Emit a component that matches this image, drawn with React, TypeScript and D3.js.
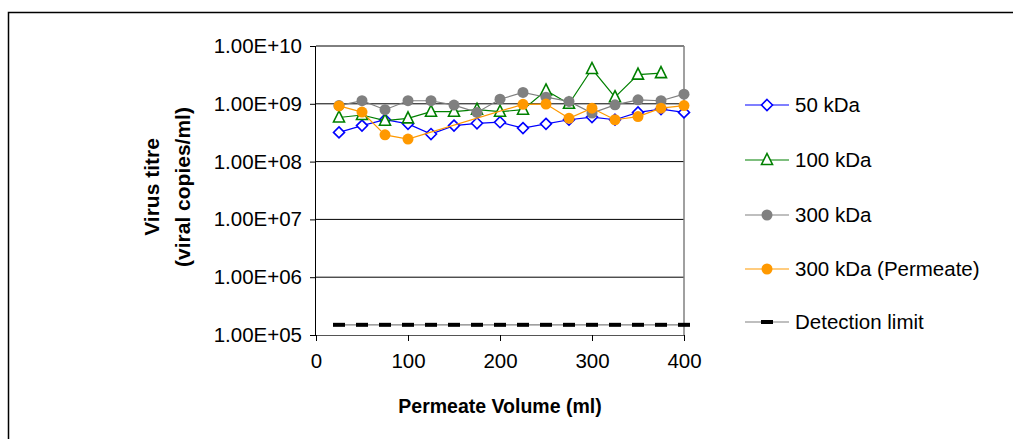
import { useEffect, useRef } from 'react';
import * as d3 from 'd3';

const volumes = [25, 50, 75, 100, 125, 150, 175, 200, 225, 250, 275, 300, 325, 350, 375, 400];

const kda50 = [3.2e8, 4.2e8, 5.3e8, 4.5e8, 3.0e8, 4.2e8, 4.6e8, 4.8e8, 3.8e8, 4.5e8, 5.3e8, 5.9e8, 5.3e8, 7.1e8, 8.1e8, 7.1e8];
const kda100 = [5.8e8, 6.4e8, 5.1e8, 5.6e8, 7.3e8, 7.3e8, 7.9e8, 7.3e8, 7.9e8, 1.7e9, 1.0e9, 4.0e9, 1.3e9, 3.2e9, 3.4e9, null];
const kda300 = [9.3e8, 1.13e9, 7.9e8, 1.13e9, 1.13e9, 9.5e8, 7.1e8, 1.2e9, 1.57e9, 1.3e9, 1.1e9, 6.9e8, 9.6e8, 1.17e9, 1.13e9, 1.47e9];
const kda300Permeate = [9.2e8, 7.2e8, 2.9e8, 2.45e8, null, null, null, null, 9.8e8, 9.9e8, 5.6e8, 8.4e8, 5.3e8, 6.0e8, 8.4e8, 9.3e8];
const detectionLimit = [1.5e5, 1.5e5, 1.5e5, 1.5e5, 1.5e5, 1.5e5, 1.5e5, 1.5e5, 1.5e5, 1.5e5, 1.5e5, 1.5e5, 1.5e5, 1.5e5, 1.5e5, 1.5e5];

const yTicks = [1e5, 1e6, 1e7, 1e8, 1e9, 1e10];
const xTicks = [0, 100, 200, 300, 400];

const seriesNames = ['50 kDa', '100 kDa', '300 kDa', '300 kDa (Permeate)', 'Detection limit'];

type Marker = 'diamond' | 'triangle' | 'circle' | 'dash';

export default function App() {
  const svgRef = useRef<SVGSVGElement>(null);

  useEffect(() => {
    if (!svgRef.current) return;
    const svg = d3.select(svgRef.current);
    svg.selectAll('*').remove();

    const font = '"Liberation Sans", Arial, sans-serif';
    const left = 316, right = 684, top = 46, bottom = 335;

    const x = d3.scaleLinear().domain([0, 400]).range([left, right]);
    const y = d3.scaleLog().domain([1e5, 1e10]).range([bottom, top]);

    // outer chart border
    svg.append('rect')
      .attr('x', 8.5).attr('y', 12.5)
      .attr('width', 1020).attr('height', 460)
      .attr('fill', 'none').attr('stroke', '#000').attr('stroke-width', 1.5);

    // gridlines
    svg.append('g').selectAll('line')
      .data(yTicks.slice(1))
      .enter().append('line')
      .attr('x1', left).attr('x2', right)
      .attr('y1', d => y(d)).attr('y2', d => y(d))
      .attr('stroke', '#000').attr('stroke-width', 1);

    // right plot border
    svg.append('line')
      .attr('x1', right).attr('x2', right).attr('y1', top).attr('y2', bottom)
      .attr('stroke', '#808080').attr('stroke-width', 1.5);

    // y axis
    const yAxis = d3.axisLeft(y)
      .tickValues(yTicks)
      .tickSize(6)
      .tickFormat(d => {
        const e = Math.round(Math.log10(+d));
        return `1.00E+${String(e).padStart(2, '0')}`;
      });
    const gy = svg.append('g').attr('transform', `translate(${left},0)`).call(yAxis);
    gy.select('.domain').attr('stroke', '#000').attr('d', `M-0.5,${top}V${bottom}`);
    gy.selectAll('.tick line').attr('stroke', '#000');
    gy.selectAll('.tick text')
      .attr('x', -14)
      .attr('font-family', font).attr('font-size', 20.5).attr('fill', '#000');

    // x axis
    const xAxis = d3.axisBottom(x).tickValues(xTicks).tickSize(6).tickFormat(d3.format('d'));
    const gx = svg.append('g').attr('transform', `translate(0,${bottom})`).call(xAxis);
    gx.select('.domain').attr('stroke', '#555').attr('d', `M${left},0.5H${right}`);
    gx.selectAll('.tick line').attr('stroke', '#000');
    gx.selectAll('.tick text')
      .attr('y', 18)
      .attr('font-family', font).attr('font-size', 20.5).attr('fill', '#000');

    // axis titles
    svg.append('text')
      .attr('x', (left + right) / 2).attr('y', 413)
      .attr('text-anchor', 'middle')
      .attr('font-family', font).attr('font-size', 19.5).attr('font-weight', 'bold')
      .text('Permeate Volume (ml)');

    const yt = svg.append('text')
      .attr('transform', 'translate(159,187) rotate(-90)')
      .attr('text-anchor', 'middle')
      .attr('font-family', font).attr('font-size', 21).attr('font-weight', 'bold');
    yt.append('tspan').attr('x', 0).attr('dy', 0).text('Virus titre');
    yt.append('tspan').attr('x', 0).attr('dy', 31).text('(viral copies/ml)');

    const drawMarker = (g: any, kind: Marker, cx: number, cy: number, color: string) => {
      if (kind === 'diamond') {
        g.append('path')
          .attr('d', `M${cx},${cy - 5.5}L${cx + 5.5},${cy}L${cx},${cy + 5.5}L${cx - 5.5},${cy}Z`)
          .attr('fill', '#fff').attr('stroke', color).attr('stroke-width', 1.6);
      } else if (kind === 'triangle') {
        g.append('path')
          .attr('d', `M${cx},${cy - 6.5}L${cx + 5.5},${cy + 4.5}L${cx - 5.5},${cy + 4.5}Z`)
          .attr('fill', '#fff').attr('stroke', color).attr('stroke-width', 1.6);
      } else if (kind === 'circle') {
        g.append('circle').attr('cx', cx).attr('cy', cy).attr('r', 5.5).attr('fill', color);
      } else {
        g.append('rect').attr('x', cx - 6).attr('y', cy - 2).attr('width', 12).attr('height', 4).attr('fill', '#000');
      }
    };

    const series: { values: (number | null)[]; line: string; fill: string; marker: Marker }[] = [
      { values: kda50, line: '#0000ff', fill: '#0000ff', marker: 'diamond' },
      { values: kda100, line: '#008000', fill: '#008000', marker: 'triangle' },
      { values: kda300, line: '#808080', fill: '#808080', marker: 'circle' },
      { values: kda300Permeate, line: '#ff9900', fill: '#ff9900', marker: 'circle' },
      { values: detectionLimit, line: '#808080', fill: '#000', marker: 'dash' },
    ];

    const lineGen = d3.line<[number, number]>()
      .x(d => x(d[0]))
      .y(d => y(d[1]));

    series.forEach(s => {
      const pts = volumes
        .map((v, i) => [v, s.values[i]] as [number, number | null])
        .filter(p => p[1] != null) as [number, number][];
      const g = svg.append('g');
      g.append('path')
        .attr('d', lineGen(pts))
        .attr('fill', 'none').attr('stroke', s.line).attr('stroke-width', 1.2);
      pts.forEach(p => drawMarker(g, s.marker, x(p[0]), y(p[1]), s.fill));
    });

    // legend
    const legendYs = [105, 160, 215, 269, 322];
    const lg = svg.append('g');
    series.forEach((s, i) => {
      const ly = legendYs[i];
      lg.append('line')
        .attr('x1', 745).attr('x2', 789).attr('y1', ly).attr('y2', ly)
        .attr('stroke', s.line).attr('stroke-width', 1.2);
      drawMarker(lg, s.marker, 767, ly, s.fill);
      lg.append('text')
        .attr('x', 795).attr('y', ly).attr('dy', '0.35em')
        .attr('font-family', font).attr('font-size', 20.5).attr('fill', '#000')
        .text(seriesNames[i]);
    });
  }, []);

  return (
    <svg
      ref={svgRef}
      width={1013}
      height={439}
      viewBox="0 0 1013 439"
      style={{ position: 'absolute', left: 0, top: 0, background: '#fff' }}
    />
  );
}
